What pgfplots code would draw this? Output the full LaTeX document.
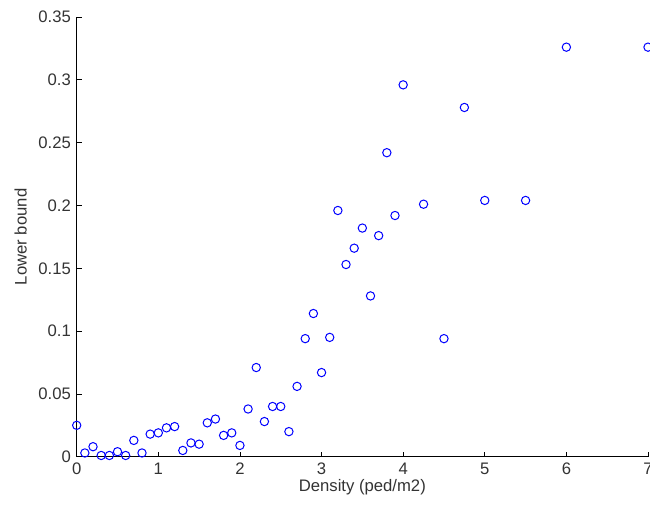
\documentclass[border=0pt]{standalone}
\usepackage{pgfplots}
\pgfplotsset{compat=1.18}
\usepackage{fontspec}
\setmainfont{Liberation Sans}
\begin{document}
\begin{tikzpicture}
\begin{axis}[
    scale only axis,
    width=342.6pt, height=263.7pt,
    axis lines=left,
    axis line style={-, black, line width=0.5pt},
    xmin=0, xmax=7, ymin=0, ymax=0.35,
    enlargelimits=false,
    xtick={0,1,...,7},
    ytick={0,0.05,0.1,0.15,0.2,0.25,0.3,0.35},
    scaled y ticks=false,
    yticklabel style={/pgf/number format/fixed, /pgf/number format/precision=2},
    /pgf/number format/assume math mode=true,
    tick align=inside,
    major tick length=3pt,
    tick style={black, line width=0.5pt},
    ticklabel style={font=\fontsize{10}{12}\selectfont, text=black!80},
    label style={font=\fontsize{10}{12}\selectfont, text=black!80},
    xlabel={Density (ped/m2)},
    ylabel={Lower bound},
    xlabel style={yshift=4pt},
    clip=false,
]
\addplot[only marks, mark=o, mark size=2.5pt, blue, mark options={line width=0.6pt}] coordinates {
(0,0.025) (0.1,0.003) (0.2,0.008) (0.3,0.001) (0.4,0.001) (0.5,0.004)
(0.6,0.001) (0.7,0.013) (0.8,0.003) (0.9,0.018) (1.0,0.019) (1.1,0.023)
(1.2,0.024) (1.3,0.005) (1.4,0.011) (1.5,0.010) (1.6,0.027) (1.7,0.030)
(1.8,0.017) (1.9,0.019) (2.0,0.009) (2.1,0.038) (2.2,0.071) (2.3,0.028)
(2.4,0.040) (2.5,0.040) (2.6,0.020) (2.7,0.056) (2.8,0.094) (2.9,0.114)
(3.0,0.067) (3.1,0.095) (3.2,0.196) (3.3,0.153) (3.4,0.166) (3.5,0.182)
(3.6,0.128) (3.7,0.176) (3.8,0.242) (3.9,0.192) (4.0,0.296) (4.25,0.201)
(4.5,0.094) (4.75,0.278) (5.0,0.204) (5.5,0.204) (6.0,0.326) (7.0,0.326)
};
\coordinate (sw) at (rel axis cs:0,0);
\coordinate (ne) at (rel axis cs:1,1);
\end{axis}
\pgfresetboundingbox
\path ([shift={(-46pt,-28.5pt)}]sw) rectangle ([shift={(1.2pt,10.2pt)}]ne);
\end{tikzpicture}
\end{document}
